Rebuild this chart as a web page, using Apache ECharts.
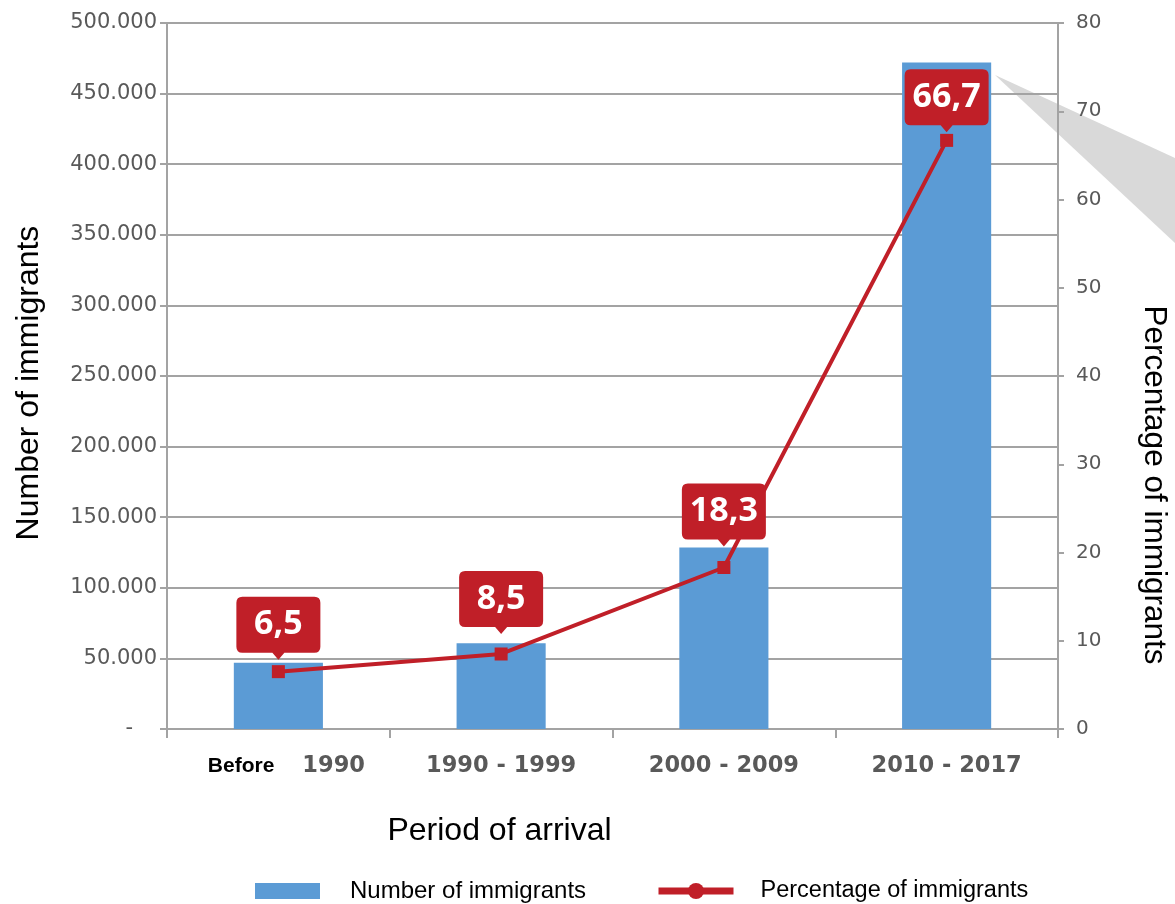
<!DOCTYPE html>
<html>
<head>
<meta charset="utf-8">
<script src="https://cdn.jsdelivr.net/npm/echarts@6/dist/echarts.min.js"></script>
<style>html,body{margin:0;padding:0;background:#fff}#c{width:1175px;height:904px}</style>
</head>
<body>
<div id="c"></div>
<script>
const categories = ['Before 1990', '1990 - 1999', '2000 - 2009', '2010 - 2017'];
const immigrants = [47000, 60800, 128600, 472100];
const percentage = [6.5, 8.5, 18.3, 66.7];
const tipGaps = [12, 20, 21, 8];

const RED = '#c01f28';
const BLUE = '#5b9bd5';
const GRAY = '#a3a3a3';
const LBL = '#595959';

const calloutPath = 'path://M6,0 H78 Q84,0 84,6 V50 Q84,56 78,56 H48 L42,63 L36,56 H6 Q0,56 0,50 V6 Q0,0 6,0 Z';

const chart = echarts.init(document.getElementById('c'));
chart.setOption({
  animation: false,
  backgroundColor: '#fff',
  graphic: [{
    type: 'polygon', z: -10,
    shape: { points: [[995, 75], [1175, 158], [1175, 243]] },
    style: { fill: '#d9d9d9' }
  }],
  grid: { left: 167, right: 117, top: 23, bottom: 175, outerBoundsMode: 'none', containLabel: false },
  legend: [{
    top: 879, left: 255, padding: 0,
    itemWidth: 65, itemHeight: 16,
    textStyle: { fontFamily: 'Liberation Sans', fontSize: 24, color: '#000', padding: [0, 0, 0, 25] },
    data: [{ name: 'Number of immigrants', icon: 'rect' }]
  }, {
    top: 879, left: 655, padding: 0,
    itemWidth: 75, itemHeight: 20,
    textStyle: { fontFamily: 'Liberation Sans', fontSize: 23.5, color: '#000', padding: [0, 0, 0, 22] },
    lineStyle: { width: 7 },
    data: [{ name: 'Percentage of immigrants' }]
  }],
  xAxis: {
    type: 'category',
    data: categories,
    name: 'Period of arrival',
    nameLocation: 'middle',
    nameGap: 86,
    nameTextStyle: { fontFamily: 'Liberation Sans', fontSize: 32, color: '#000', padding: [0, 226, 0, 0] },
    axisLine: { lineStyle: { color: GRAY, width: 2 } },
    axisTick: { show: true, interval: 0, length: 9, lineStyle: { color: GRAY, width: 2 } },
    axisLabel: {
      interval: 0,
      margin: 26,
      fontFamily: 'DejaVu Sans', fontWeight: 'bold', fontSize: 22.5, color: LBL,
      formatter: function (v) {
        if (v.indexOf('Before ') === 0) return '{b|Before}{y|' + v.slice(7) + '}';
        return v;
      },
      rich: {
        b: { fontFamily: 'Liberation Sans', fontWeight: 'bold', fontSize: 21, color: '#000', padding: [0, 28, 0, 16] },
        y: { fontFamily: 'DejaVu Sans', fontWeight: 'bold', fontSize: 22.5, color: LBL }
      }
    }
  },
  yAxis: [{
    type: 'value', min: 0, max: 500000, interval: 50000,
    name: 'Number of immigrants',
    nameLocation: 'middle',
    nameGap: 122,
    nameTextStyle: { fontFamily: 'Liberation Sans', fontSize: 32, color: '#000', padding: [0, 14, 0, 0] },
    axisLine: { show: true, lineStyle: { color: GRAY, width: 2 } },
    axisTick: { show: true, length: 7, lineStyle: { color: GRAY, width: 2 } },
    splitLine: { lineStyle: { color: GRAY, width: 2 } },
    axisLabel: {
      margin: 10,
      fontFamily: 'DejaVu Sans', fontSize: 21, color: LBL,
      formatter: function (v) {
        if (v === 0) return '{d|-}';
        return String(v).replace(/\B(?=(\d{3})+(?!\d))/g, '.');
      },
      rich: { d: { fontFamily: 'DejaVu Sans', fontSize: 21, color: LBL, padding: [0, 24, 0, 0] } }
    }
  }, {
    type: 'value', min: 0, max: 80, interval: 10,
    name: 'Percentage of immigrants',
    nameLocation: 'middle',
    nameRotate: -90,
    nameGap: 80,
    nameTextStyle: { fontFamily: 'Liberation Sans', fontSize: 31.5, color: '#000', padding: [0, 0, 0, 218] },
    axisLine: { show: true, lineStyle: { color: GRAY, width: 2 } },
    axisTick: { show: true, length: 6, lineStyle: { color: GRAY, width: 2 } },
    splitLine: { show: false },
    axisLabel: { margin: 18, fontFamily: 'DejaVu Sans', fontSize: 20, color: LBL }
  }],
  series: [{
    name: 'Number of immigrants',
    type: 'bar',
    data: immigrants,
    barWidth: '40%',
    itemStyle: { color: BLUE }
  }, {
    name: 'Percentage of immigrants',
    type: 'line',
    yAxisIndex: 1,
    z: 3,
    symbol: 'circle',
    data: percentage.map(v => ({ value: v, symbol: 'rect', symbolSize: 13 })),
    lineStyle: { color: RED, width: 4 },
    itemStyle: { color: RED },
    markPoint: {
      z: 10,
      symbol: calloutPath,
      symbolSize: [84, 63],
      itemStyle: { color: RED },
      label: {
        show: true, position: 'inside', offset: [0, -3.5],
        fontFamily: 'Open Sans', fontWeight: 'bold', fontSize: 34, color: '#fff',
        formatter: p => String(p.value).replace('.', ',')
      },
      data: percentage.map((v, i) => ({
        coord: [categories[i], v], value: v,
        symbolOffset: [0, -(31.5 + tipGaps[i])]
      }))
    }
  }]
});
</script>
</body>
</html>
